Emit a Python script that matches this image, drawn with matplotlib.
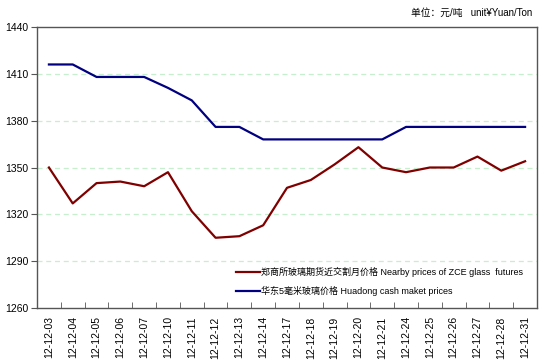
import matplotlib
matplotlib.use("Agg")
import matplotlib.pyplot as plt
from matplotlib.ticker import FixedLocator, NullFormatter

plt.rcParams['font.family'] = ['Liberation Sans', 'Noto Sans CJK SC', 'DejaVu Sans']

dates = ["12-12-03", "12-12-04", "12-12-05", "12-12-06", "12-12-07", "12-12-10", "12-12-11",
         "12-12-12", "12-12-13", "12-12-14", "12-12-17", "12-12-18", "12-12-19", "12-12-20",
         "12-12-21", "12-12-24", "12-12-25", "12-12-26", "12-12-27", "12-12-28", "12-12-31"]
zce_futures = [1350, 1327, 1340, 1341, 1338, 1347, 1322, 1305, 1306, 1313, 1337, 1342,
               1352, 1363, 1350, 1347, 1350, 1350, 1357, 1348, 1354]
huadong_cash = [1416, 1416, 1408, 1408, 1408, 1401, 1393, 1376, 1376, 1368, 1368, 1368,
                1368, 1368, 1368, 1376, 1376, 1376, 1376, 1376, 1376]
yticks = [1260, 1290, 1320, 1350, 1380, 1410, 1440]
label_zce = "郑商所玻璃期货近交割月价格 Nearby prices of ZCE glass  futures"
label_hd = "华东5毫米玻璃价格 Huadong cash maket prices"
unit_text = "单位：元/吨   unit¥Yuan/Ton"

fig = plt.figure(figsize=(5.46, 3.6), dpi=100)
ax = fig.add_axes([0.0678, 0.1444, 0.9157, 0.7806])

x = list(range(len(dates)))
ax.plot(x, zce_futures, color="#800000", lw=1.6, label=label_zce)
ax.plot(x, huadong_cash, color="#000080", lw=1.6, label=label_hd)

ax.set_xlim(-0.5, len(dates) - 0.5)
ax.set_ylim(1260, 1440)
ax.set_yticks(yticks)
ax.set_yticklabels([str(v) for v in yticks], fontsize=7.5)
for v in yticks[1:-1]:
    ax.axhline(v, color="#c6efce", lw=0.9, ls=(0, (4, 3)), zorder=0)

ax.set_xticks(x)
ax.set_xticklabels(dates, rotation=90, fontsize=7.5)
ax.tick_params(axis='x', which='major', length=0, pad=6)
ax.xaxis.set_minor_locator(FixedLocator([i + 0.5 for i in range(len(dates) - 1)]))
ax.xaxis.set_minor_formatter(NullFormatter())
ax.tick_params(axis='x', which='minor', direction='in', length=4, color="#555555")
ax.tick_params(axis='y', direction='out', length=4, color="#555555", pad=2)

for s in ax.spines.values():
    s.set_color("#555555")
    s.set_linewidth(1.0)

leg = ax.legend(loc="lower right", bbox_to_anchor=(0.985, 0.02), frameon=False,
                fontsize=6.5, handlelength=2.7, handletextpad=0.1, labelspacing=1.0,
                borderaxespad=0.3)

fig.text(0.975, 0.965, unit_text, ha="right", va="center", fontsize=7)

fig.savefig("out.png", dpi=100)
